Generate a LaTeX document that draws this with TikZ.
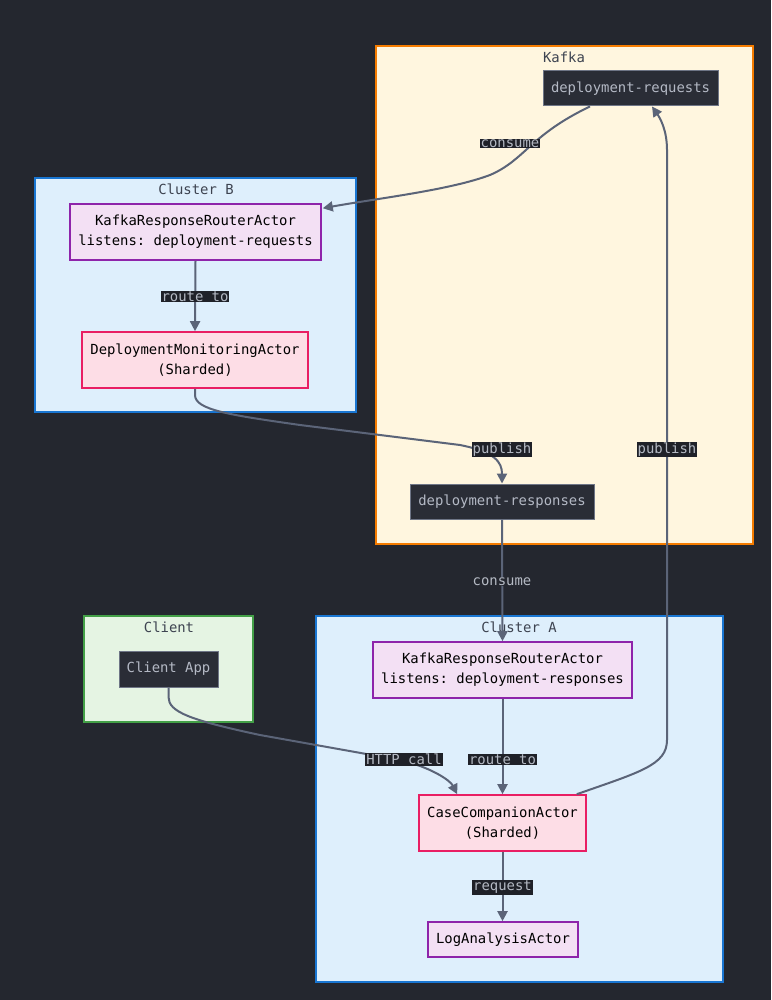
\documentclass[tikz,border=0pt]{standalone}
\usepackage{fontspec}
\setmonofont{DejaVu Sans Mono}
\usetikzlibrary{arrows.meta,calc}
\definecolor{bgc}{HTML}{24272F}
\definecolor{kfill}{HTML}{FFF6DF}
\definecolor{kline}{HTML}{F57C00}
\definecolor{cfill}{HTML}{DEEFFC}
\definecolor{cline}{HTML}{1976D2}
\definecolor{gfill}{HTML}{E5F4E3}
\definecolor{gline}{HTML}{43A047}
\definecolor{dfill}{HTML}{2A2D36}
\definecolor{dline}{HTML}{6E7586}
\definecolor{dtext}{HTML}{B4B9C5}
\definecolor{pfill}{HTML}{FDDDE6}
\definecolor{pline}{HTML}{E91E63}
\definecolor{vfill}{HTML}{F3E0F4}
\definecolor{vline}{HTML}{8E24AA}
\definecolor{ecol}{HTML}{5B6478}
\definecolor{lbg}{HTML}{1F2128}
\definecolor{ltext}{HTML}{B5BAC4}
\definecolor{ttext}{HTML}{3D4350}
\tikzset{
  base/.style={inner sep=0pt, align=center, font=\ttfamily\fontsize{13.9}{20}\selectfont, line width=1.6pt},
  cluster/.style={draw, line width=1.6pt, inner sep=0pt},
  ctitle/.style={font=\ttfamily\fontsize{13.9}{20}\selectfont, text=ttext, inner sep=0pt},
  topic/.style={base, fill=dfill, draw=dline, line width=1pt, text=dtext},
  shard/.style={base, fill=pfill, draw=pline, text=black},
  actor/.style={base, fill=vfill, draw=vline, text=black},
  edge/.style={draw=ecol, line width=2pt, -{Triangle[length=10pt,width=10pt]}},
  elabel/.style={fill=lbg, text=ltext, inner sep=1pt, font=\ttfamily\fontsize{13.9}{16}\selectfont},
}
\begin{document}
\begin{tikzpicture}[x=1pt,y=-1pt]
\fill[bgc] (0,0) rectangle (771,1000);
\useasboundingbox (0,0) rectangle (771,1000);
% clusters
\node[cluster, fill=kfill, draw=kline, minimum width=377pt, minimum height=498pt] (kafka) at (564.5,295) {};
\node[ctitle] (kafkat) at (564,57) {Kafka};
\node[cluster, fill=cfill, draw=cline, minimum width=321pt, minimum height=234pt] (clb) at (195.5,295) {};
\node[ctitle] (clbt) at (196,189) {Cluster B};
\node[cluster, fill=gfill, draw=gline, minimum width=169pt, minimum height=106pt] (cli) at (168.5,669) {};
\node[ctitle] (clit) at (169,627) {Client};
\node[cluster, fill=cfill, draw=cline, minimum width=407pt, minimum height=366pt] (cla) at (519.5,799) {};
\node[ctitle] (clat) at (519,627) {Cluster A};
% nodes
\node[topic, minimum width=175pt, minimum height=35pt] (drq) at (630.5,88.5) {\raisebox{-1pt}{deployment-requests}};
\node[actor, minimum width=251pt, minimum height=56pt] (krrb) at (195.5,232) {KafkaResponseRouterActor\\listens: deployment-requests};
\node[shard, minimum width=226pt, minimum height=56pt] (dma) at (195,360) {DeploymentMonitoringActor\\(Sharded)};
\node[topic, minimum width=184pt, minimum height=35pt] (drs) at (502,501.5) {\raisebox{-1pt}{deployment-responses}};
\node[topic, minimum width=99pt, minimum height=36pt] (capp) at (168.5,669) {\raisebox{-1pt}{Client App}};
\node[actor, minimum width=259pt, minimum height=56pt] (krra) at (502.5,670) {KafkaResponseRouterActor\\listens: deployment-responses};
\node[shard, minimum width=167pt, minimum height=56pt] (cca) at (502.5,823) {CaseCompanionActor\\(Sharded)};
\node[actor, minimum width=150pt, minimum height=35pt] (laa) at (503,939.5) {\raisebox{-1pt}{LogAnalysisActor}};
% edges
\draw[edge] ($(drq.south)+(-40.5,0)$) .. controls (530,135) and (525,160) .. (490,175) .. controls (450,190) and (380,198) .. ($(krrb.north east)+(1,5)$);
\node[elabel] (l1) at (510,143.5) {consume};
\draw[edge] (krrb.south) -- (dma.north);
\node[elabel] (l2) at (195,296.5) {route to};
\draw[edge] (dma.south) -- (195,395) .. controls (195,410) and (230,415) .. (300,425) -- (460,445) .. controls (495,452) and (502,462) .. (drs.north);
\node[elabel] (l3) at (502,449.5) {publish};
\draw[edge] (drs.south) -- (krra.north);
\node[elabel, fill=bgc] (l4) at (502,581.5) {consume};
\draw[edge] ($(cca.north east)+(-10,0)$) .. controls (640,772) and (667,765) .. (667,740) -- (667,150) .. controls (667,130) and (660,118) .. ($(drq.south)+(21.5,0)$);
\node[elabel] (l5) at (667,449.5) {publish};
\draw[edge] (capp.south) -- (168.5,697) .. controls (168.5,712) and (190,720) .. (260,735) -- (400,760) .. controls (430,767) and (450,780) .. ($(cca.north west)+(39,0)$);
\node[elabel] (l6) at (404,759.5) {HTTP call};
\draw[edge] (krra.south) -- (cca.north);
\node[elabel] (l7) at (502.5,759.5) {route to};
\draw[edge] (cca.south) -- (cca.south |- laa.north);
\node[elabel] (l8) at (502.5,887.5) {request};
\end{tikzpicture}
\end{document}
